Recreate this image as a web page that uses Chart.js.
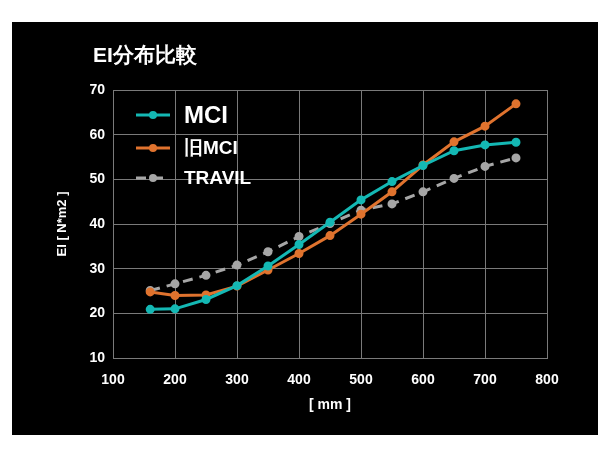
<!DOCTYPE html>
<html>
<head>
<meta charset="utf-8">
<script src="https://cdn.jsdelivr.net/npm/chart.js@4/dist/chart.umd.min.js"></script>
<style>
  body { margin: 0; background: #fff; }
  #wrap { position: absolute; left: 0; top: 0; width: 610px; height: 450px; }
</style>
</head>
<body>
<div id="wrap"><canvas id="c" width="610" height="450"></canvas></div>
<script>
const lengths = [160, 200, 250, 300, 350, 400, 450, 500, 550, 600, 650, 700, 750];
const mciValues = [20.9, 21.0, 23.1, 26.2, 30.6, 35.4, 40.4, 45.4, 49.5, 53.1, 56.4, 57.7, 58.3];
const oldMciValues = [24.8, 24.0, 24.1, 26.1, 29.7, 33.4, 37.4, 42.2, 47.2, 53.2, 58.4, 61.9, 66.9];
const travilValues = [25.1, 26.6, 28.5, 30.8, 33.8, 37.2, 40.1, 43.1, 44.5, 47.2, 50.2, 52.9, 54.8];
const seriesNames = ['MCI', '旧MCI', 'TRAVIL'];
const xTitle = '[ mm ]';
const yTitle = 'EI [ N*m2 ]';

const FONT = '"Liberation Sans", Arial, sans-serif';

const toPoints = vals => lengths.map((x, i) => ({ x: x, y: vals[i] }));

// 黒い背景・タイトル・軸タイトル・凡例を描く
const decor = {
    id: 'decor',
    beforeDraw(chart) {
        const ctx = chart.ctx;
        ctx.save();
        ctx.fillStyle = '#000';
        ctx.fillRect(12, 22, 586, 413);
        ctx.fillStyle = '#fff';
        ctx.font = 'bold 21px ' + FONT;
        ctx.textBaseline = 'middle';
        ctx.fillText('EI分布比較', 93, 56);
        ctx.restore();
    },
    afterDraw(chart) {
        const ctx = chart.ctx;
        const area = chart.chartArea;
        ctx.save();
        ctx.fillStyle = '#fff';
        ctx.textAlign = 'center';
        ctx.textBaseline = 'middle';
        ctx.font = 'bold 14px ' + FONT;
        ctx.fillText(xTitle, (area.left + area.right) / 2, 405);
        ctx.translate(62, (area.top + area.bottom) / 2);
        ctx.rotate(-Math.PI / 2);
        ctx.font = 'bold 13px ' + FONT;
        ctx.fillText(yTitle, 0, 0);
        ctx.restore();

        ctx.save();
        const rows = [115, 148, 178];
        chart.data.datasets.forEach((ds, i) => {
            const y = rows[i];
            ctx.strokeStyle = ds.borderColor;
            ctx.lineWidth = 3;
            ctx.setLineDash(ds.borderDash || []);
            ctx.beginPath();
            ctx.moveTo(136, y);
            ctx.lineTo(170, y);
            ctx.stroke();
            ctx.setLineDash([]);
            ctx.fillStyle = ds.borderColor;
            ctx.beginPath();
            ctx.arc(153, y, 4, 0, Math.PI * 2);
            ctx.fill();
            ctx.fillStyle = '#fff';
            ctx.font = (i === 0 ? 'bold 24px ' : 'bold 19px ') + FONT;
            ctx.textBaseline = 'middle';
            ctx.fillText(ds.label, 184, y + 1);
        });
        ctx.restore();
    }
};

new Chart(document.getElementById('c'), {
    type: 'line',
    data: {
        datasets: [
            { label: seriesNames[0], data: toPoints(mciValues), borderColor: '#14b8b4', backgroundColor: '#14b8b4', borderWidth: 3, pointRadius: 3 },
            { label: seriesNames[1], data: toPoints(oldMciValues), borderColor: '#e0732e', backgroundColor: '#e0732e', borderWidth: 3, pointRadius: 3 },
            { label: seriesNames[2], data: toPoints(travilValues), borderColor: '#a6a6a6', backgroundColor: '#a6a6a6', borderWidth: 3, pointRadius: 3, borderDash: [10, 7] }
        ]
    },
    options: {
        responsive: false,
        animation: false,
        layout: { padding: { left: 0, top: 90, right: 63, bottom: 0 } },
        plugins: { legend: { display: false }, tooltip: { enabled: false } },
        scales: {
            x: {
                type: 'linear', min: 100, max: 800,
                ticks: { stepSize: 100, color: '#fff', font: { family: FONT, size: 14, weight: 'bold' }, padding: 14 },
                grid: { color: '#7a7a7a', drawTicks: false },
                border: { color: '#7a7a7a' },
                afterFit(scale) { scale.height = 92; }
            },
            y: {
                min: 10, max: 70,
                ticks: { stepSize: 10, color: '#fff', font: { family: FONT, size: 14, weight: 'bold' }, padding: 8 },
                grid: { color: '#7a7a7a', drawTicks: false },
                border: { color: '#7a7a7a' },
                afterFit(scale) { scale.width = 113; }
            }
        }
    },
    plugins: [decor]
});
</script>
</body>
</html>
